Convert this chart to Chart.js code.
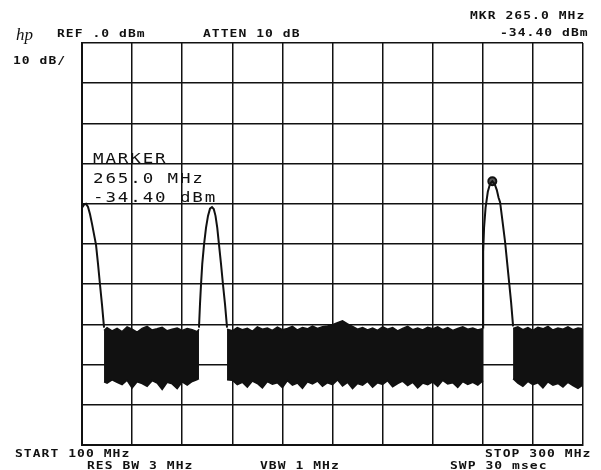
<!DOCTYPE html>
<html>
<head>
<meta charset="utf-8">
<script src="https://cdn.jsdelivr.net/npm/chart.js@4"></script>
<style>
  body { margin: 0; background: #fff; }
  canvas { display: block; }
</style>
</head>
<body>
<canvas id="specChart" width="601" height="470"></canvas>
<script>
// sweep 100..300 MHz, ref 0 dBm, 10 dB/div
var freqStart = 100;
var freqStop = 300;
var refLevel = 0;
var bottomLevel = -100;

// signal peaks (null = gap between peaks)
var peakFreq = [100, 100.8, 101.6, 102.4, 103.2, 104, 104.8, 105.6, 106.4, 107.2, 108, 108.8,
  128,
  146.7, 147.1, 147.5, 148.0, 148.7, 149.5, 150.3, 151.1, 151.9, 152.6, 153.3, 154.0, 154.7, 155.5, 156.3, 157.1, 157.9,
  210,
  260.1, 260.1, 260.2, 260.5, 261.1, 262.0, 262.9, 263.8, 264.7, 265.6, 266.3, 266.9, 267.9, 268.9, 269.7, 270.5, 271.3, 272.1];
var peakLevel = [-41.0, -40.2, -40.0, -40.8, -42.6, -45.0, -47.6, -50.2, -55.0, -60.2, -65.2, -70.8,
  null,
  -70.8, -65.0, -60.2, -55.0, -50.2, -46.0, -43.0, -41.2, -40.8, -41.3, -43.0, -46.0, -50.2, -55.0, -60.2, -65.0, -70.8,
  null,
  -70.8, -60.0, -52.0, -46.0, -41.0, -37.0, -35.0, -34.4, -35.0, -36.6, -38.5, -39.6, -44.5, -49.5, -54.5, -59.5, -64.5, -70.5];

// noise floor envelope (upper and lower edge of the noise band)
var noiseFreq = [108.8, 110, 112, 114, 116, 118, 120, 122, 124, 126, 128, 130, 132, 134, 136, 138, 140, 142, 144, 146, 146.7,
  152,
  157.9, 160, 162, 164, 166, 168, 170, 172, 174, 176, 178, 180, 182, 184, 186, 188, 190, 192, 194, 196, 198,
  200, 202, 204, 206, 208, 210, 212, 214, 216, 218, 220, 222, 224, 226, 228, 230, 232, 234, 236, 238,
  240, 242, 244, 246, 248, 250, 252, 254, 256, 258, 260.1,
  266,
  272.1, 274, 276, 278, 280, 282, 284, 286, 288, 290, 292, 294, 296, 298, 300];
var noiseTop = [-71.5, -70.8, -71.6, -71.0, -71.8, -70.6, -71.2, -71.9, -71.0, -70.5, -71.4, -71.1, -70.7, -71.6, -71.2, -70.9, -71.5, -71.0, -71.3, -71.8, -71.2,
  null,
  -71.2, -71.6, -70.8, -71.3, -71.0, -71.7, -70.6, -71.2, -70.9, -71.5, -70.7, -71.3, -71.0, -70.5, -71.4, -70.8, -71.1, -70.4, -71.0, -70.6, -70.4,
  -70.1, -69.6, -69.1, -69.9, -70.5, -71.2, -70.8, -71.4, -70.9, -71.5, -70.6, -71.2, -70.8, -71.6, -71.0, -70.5, -71.3, -70.9, -71.4, -70.7,
  -71.1, -70.6, -71.3, -70.8, -71.5, -71.0, -70.6, -71.2, -70.9, -71.4, -71.0,
  null,
  -71.0, -70.6, -71.3, -70.8, -71.5, -70.7, -71.1, -70.5, -71.4, -70.9, -71.2, -70.6, -71.3, -70.9, -71.1];
var noiseBottom = [-84.3, -84.6, -83.8, -84.4, -85.0, -83.9, -85.8, -84.3, -84.7, -85.4, -84.0, -84.6, -86.2, -84.4, -84.8, -86.0, -84.3, -85.1, -84.2, -83.7, -83.5,
  null,
  -83.8, -83.9, -85.0, -84.4, -85.6, -84.1, -84.7, -85.8, -84.2, -84.9, -84.5, -85.7, -84.0, -85.1, -84.6, -85.9, -84.3, -84.8, -84.1, -85.4, -84.5,
  -85.0, -83.8, -85.3, -84.4, -86.0, -84.7, -85.1, -84.2, -85.6, -84.5, -84.9, -84.0, -85.5, -84.7, -84.1, -85.2, -84.4, -85.8, -84.6, -85.0,
  -84.3, -85.4, -83.9, -84.8, -84.5, -85.7, -84.2, -84.9, -84.4, -85.1, -84.0,
  null,
  -83.5, -84.6, -85.4, -84.2, -85.0, -84.5, -85.8, -84.3, -85.1, -84.7, -85.6, -84.4, -85.2, -85.9, -85.0];

// marker
var markerFreq = [263.8];
var markerLevel = [-34.4];

function pts(xs, ys) {
  return xs.map(function (x, i) { return { x: x, y: ys[i] }; });
}

var ink = "#111";

// wide plotter-style lettering: stretch glyphs sideways
function wideText(c, txt, x, y, sx) {
  c.save();
  c.translate(x, y);
  c.scale(sx, 1);
  c.fillText(txt, 0, 0);
  c.restore();
}

// annotation text like the analyzer screen
var screenText = {
  id: "screenText",
  afterDraw: function (chart) {
    var c = chart.ctx;
    c.save();
    c.fillStyle = ink;
    c.textBaseline = "alphabetic";
    c.textAlign = "left";

    c.font = "italic 17px 'Liberation Serif'";
    c.letterSpacing = "0px";
    c.fillText("hp", 16, 40);

    c.font = "bold 10px 'DejaVu Sans Mono'";
    c.letterSpacing = "0.8px";
    wideText(c, "REF .0 dBm", 57, 37, 1.3);
    wideText(c, "ATTEN 10 dB", 203, 37, 1.3);
    wideText(c, "MKR 265.0 MHz", 470, 19, 1.3);
    wideText(c, "-34.40 dBm", 500, 36, 1.3);
    wideText(c, "10 dB/", 13, 64, 1.3);
    wideText(c, "START 100 MHz", 15, 457, 1.3);
    wideText(c, "STOP 300 MHz", 485, 457, 1.3);
    wideText(c, "RES BW 3 MHz", 87, 469, 1.3);
    wideText(c, "VBW 1 MHz", 260, 469, 1.3);
    wideText(c, "SWP 30 msec", 450, 469, 1.3);

    c.font = "14px 'DejaVu Sans Mono'";
    c.letterSpacing = "1.5px";
    wideText(c, "MARKER", 93, 163, 1.25);
    wideText(c, "265.0 MHz", 93, 183, 1.25);
    wideText(c, "-34.40 dBm", 93, 202, 1.25);
    c.restore();
  }
};

var ctx = document.getElementById("specChart");

var specChart = new Chart(ctx, {
  type: "line",
  data: {
    datasets: [
      {
        label: "noise top",
        data: pts(noiseFreq, noiseTop),
        borderColor: ink,
        borderWidth: 1.5,
        pointRadius: 0,
        fill: false,
        spanGaps: false,
      },
      {
        label: "noise bottom",
        data: pts(noiseFreq, noiseBottom),
        borderColor: ink,
        borderWidth: 1.5,
        backgroundColor: ink,
        pointRadius: 0,
        fill: "-1",
        spanGaps: false,
      },
      {
        label: "trace",
        data: pts(peakFreq, peakLevel),
        borderColor: ink,
        borderWidth: 2,
        pointRadius: 0,
        fill: false,
        spanGaps: false,
      },
      {
        label: "marker",
        data: pts(markerFreq, markerLevel),
        borderColor: ink,
        backgroundColor: "#555",
        borderWidth: 2,
        pointRadius: 4,
        showLine: false,
      },
    ],
  },
  options: {
    responsive: false,
    animation: false,
    devicePixelRatio: 1,
    layout: { padding: { left: 82, right: 18, top: 43, bottom: 25 } },
    plugins: {
      legend: { display: false },
      tooltip: { enabled: false },
    },
    scales: {
      x: {
        type: "linear",
        min: freqStart,
        max: freqStop,
        ticks: { display: false, stepSize: 20 },
        grid: { color: ink, lineWidth: 1.5, drawTicks: false },
        border: { display: true, color: ink, width: 2 },
      },
      y: {
        min: bottomLevel,
        max: refLevel,
        ticks: { display: false, stepSize: 10 },
        grid: { color: ink, lineWidth: 1.5, drawTicks: false },
        border: { display: true, color: ink, width: 2 },
      },
    },
  },
  plugins: [screenText],
});
</script>
</body>
</html>
